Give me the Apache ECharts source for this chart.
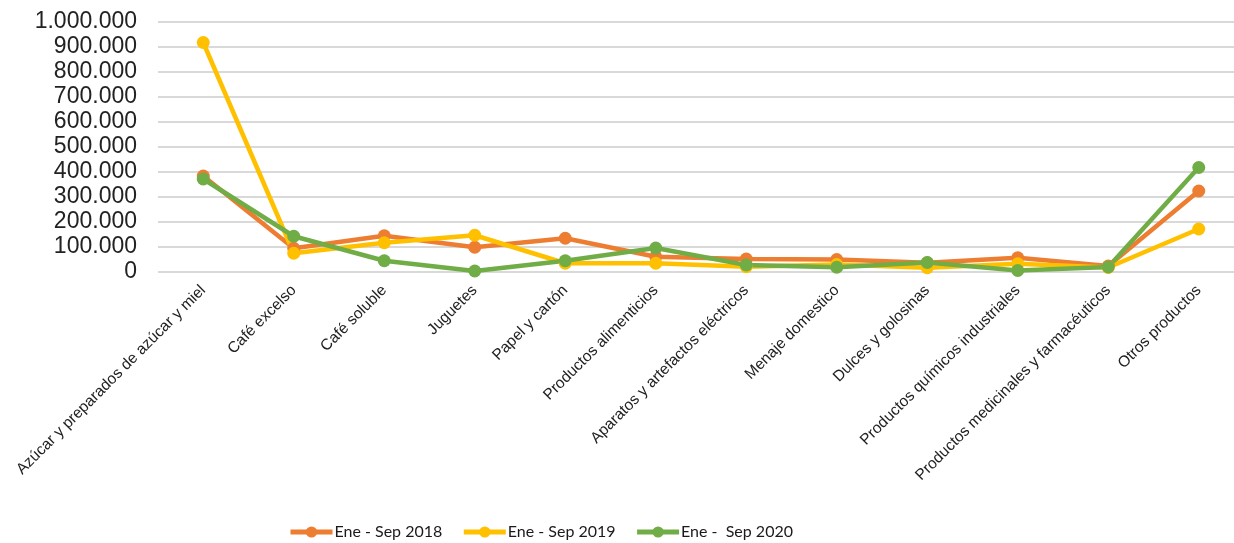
<!DOCTYPE html>
<html><head><meta charset="utf-8">
<script src="https://cdn.jsdelivr.net/npm/echarts@6/dist/echarts.min.js"></script>
<style>html,body{margin:0;padding:0;background:#fff;overflow:hidden}#c{width:1234px;height:543px}</style>
</head><body><div id="c"></div>
<script>
const categories = ["Azúcar y preparados de azúcar y miel","Café excelso","Café soluble","Juguetes","Papel y cartón","Productos alimenticios","Aparatos y artefactos eléctricos","Menaje domestico","Dulces y golosinas","Productos químicos industriales","Productos medicinales y farmacéuticos","Otros productos"];
const s2018 = [384000, 95000, 145000, 99000, 135000, 61000, 52000, 50000, 37000, 57000, 24000, 324000];
const s2019 = [918000, 75000, 117000, 147000, 35000, 35000, 21000, 30000, 17000, 33000, 18000, 172000];
const s2020 = [372000, 143000, 45000, 4000, 45000, 96000, 28000, 19000, 38000, 6000, 20000, 418000];
const seriesNames = ["Ene - Sep 2018","Ene - Sep 2019","Ene -  Sep 2020"];
const colors = ["#ED7D31","#FFC000","#70AD47"];
const yTicks = {min:0,max:1000000,interval:100000};

const chart = echarts.init(document.getElementById('c'));
const mk = (name, data, color) => ({
  name, data, type:'line', color,
  symbol:'circle', symbolSize:13,
  lineStyle:{width:4.5,color},
  itemStyle:{color},
  emphasis:{disabled:true}
});
chart.setOption({
  animation:false,
  grid:{left:158,width:1086,top:22,height:250,containLabel:false,outerBoundsMode:'none'},
  legend:{
    top:519,left:283,itemGap:19,itemWidth:42,itemHeight:14,
    lineStyle:{width:5},
    textStyle:{fontFamily:"Lato,'Open Sans',sans-serif",fontSize:16,color:'#1a1a1a',padding:[0,0,0,-3]},
    data:seriesNames
  },
  xAxis:{
    type:'category',data:categories,boundaryGap:true,
    axisLine:{show:false},axisTick:{show:false},
    axisLabel:{interval:0,rotate:45,margin:16,fontFamily:"'Liberation Sans',Arial,sans-serif",fontSize:15.5,color:'#222'}
  },
  yAxis:{
    type:'value',min:yTicks.min,max:yTicks.max,interval:yTicks.interval,
    axisLine:{show:false},axisTick:{show:false},
    splitLine:{lineStyle:{color:'#d9d9d9',width:2}},
    axisLabel:{margin:21,fontFamily:"'Liberation Sans',Arial,sans-serif",fontSize:23,color:'#222',
      formatter:v=>v.toLocaleString('de-DE')}
  },
  series:[mk(seriesNames[0],s2018,colors[0]),mk(seriesNames[1],s2019,colors[1]),mk(seriesNames[2],s2020,colors[2])]
});
</script></body></html>
